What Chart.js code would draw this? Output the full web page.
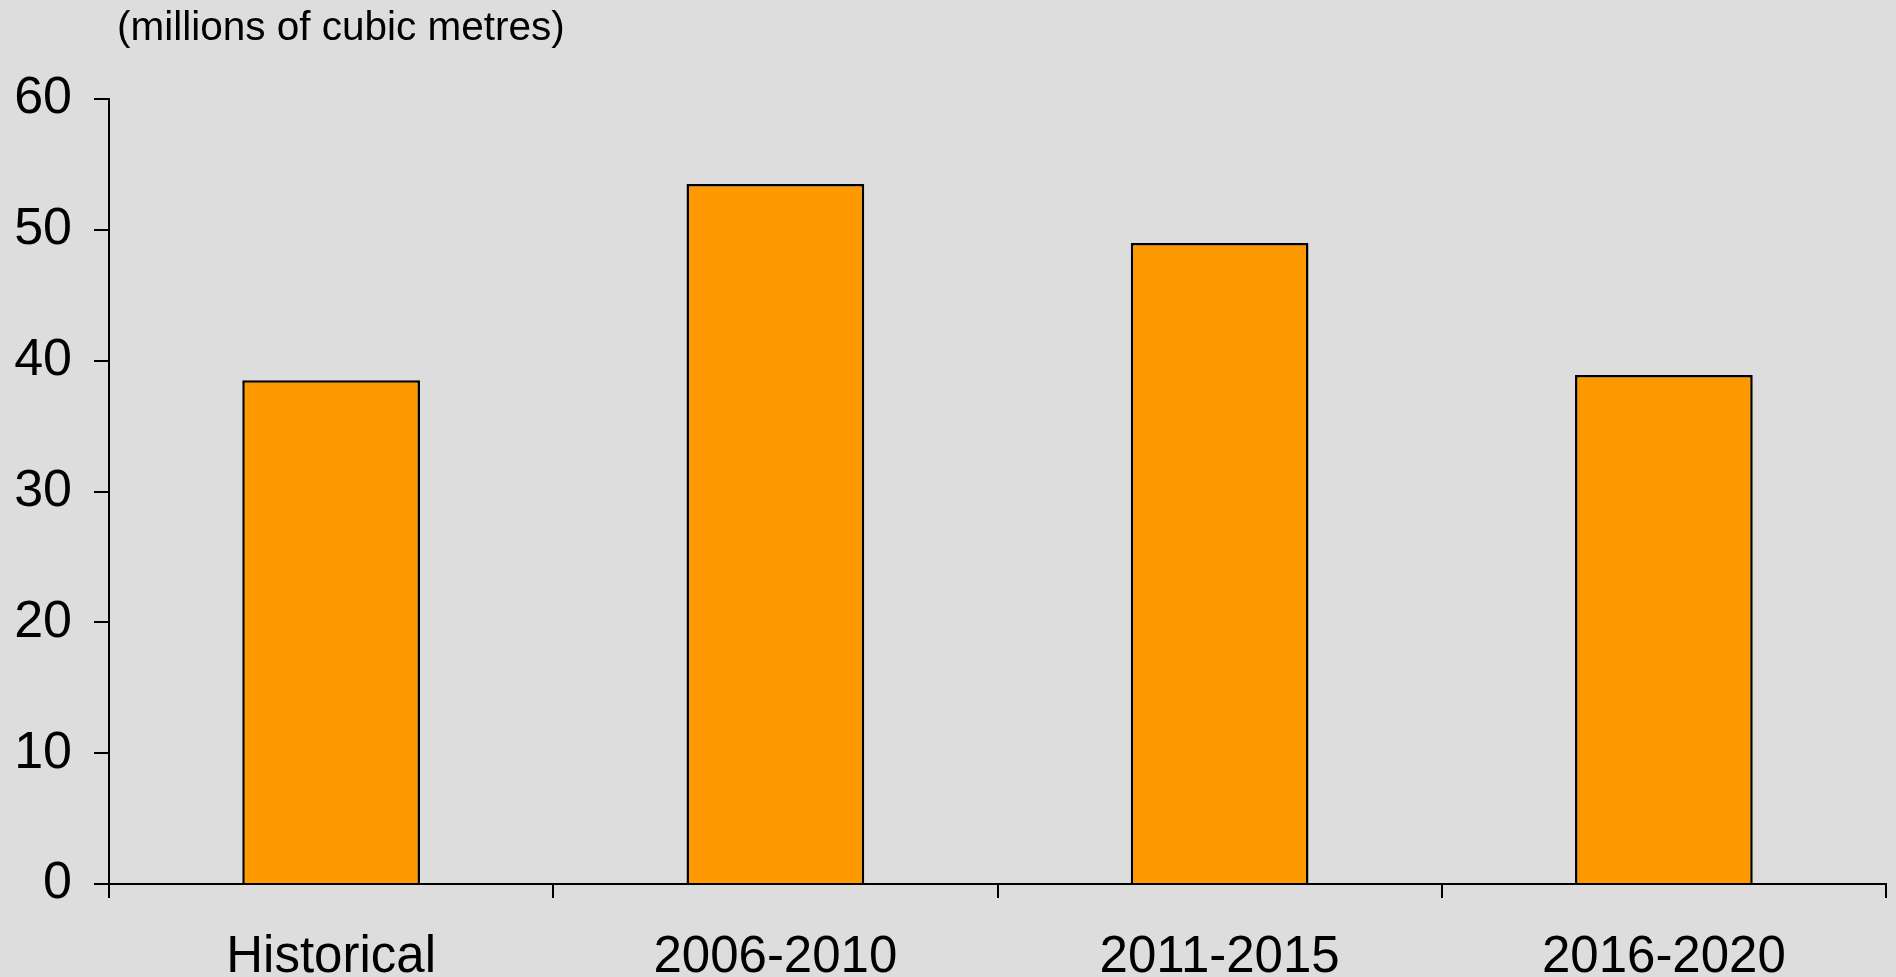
<!DOCTYPE html>
<html>
<head>
<meta charset="utf-8">
<title>Volume</title>
<script src="https://cdn.jsdelivr.net/npm/chart.js@4.4.1/dist/chart.umd.min.js"></script>
<style>
  html, body { margin: 0; padding: 0; background: #dddddd; overflow: hidden; }
  canvas { display: block; }
</style>
</head>
<body>
<canvas id="myChart" width="1896" height="977"></canvas>
<script>
const periods = ["Historical", "2006-2010", "2011-2015", "2016-2020"];
const volumes = [38.5, 53.5, 49.0, 38.9];
const unitLabel = "(millions of cubic metres)";

const FONT = "'Liberation Sans', Arial, sans-serif";

// unit caption drawn above the plot, left-aligned near the y axis
const unitCaption = {
  id: "unitCaption",
  afterDraw(chart) {
    const ctx = chart.ctx;
    ctx.save();
    ctx.font = "40.5px " + FONT;
    ctx.fillStyle = "#000";
    ctx.textBaseline = "middle";
    ctx.textAlign = "left";
    ctx.fillText(unitLabel, chart.chartArea.left + 8, 29);
    ctx.restore();
  },
};

new Chart("myChart", {
  type: "bar",
  data: {
    labels: periods,
    datasets: [
      {
        data: volumes,
        backgroundColor: "#ff9900",
        borderColor: "#000000",
        borderWidth: 2.5,
        barPercentage: 0.4,
        categoryPercentage: 1.0,
      },
    ],
  },
  plugins: [unitCaption],
  options: {
    responsive: false,
    animation: false,
    layout: {
      padding: { top: 99, right: 10, bottom: 0, left: 0 },
    },
    plugins: {
      legend: { display: false },
      tooltip: { enabled: false },
    },
    scales: {
      x: {
        grid: {
          drawOnChartArea: false,
          color: "#000",
          lineWidth: 2,
          tickLength: 14,
          offset: true,
        },
        border: { color: "#000", width: 2 },
        ticks: {
          color: "#000",
          padding: 29,
          maxRotation: 0,
          font: { family: FONT, size: 51 },
        },
        afterFit(scale) {
          scale.height = 93;
        },
      },
      y: {
        min: 0,
        max: 60,
        grid: {
          drawOnChartArea: false,
          color: "#000",
          lineWidth: 2,
          tickLength: 15,
        },
        border: { color: "#000", width: 2 },
        ticks: {
          stepSize: 10,
          color: "#000",
          padding: 22,
          font: { family: FONT, size: 52 },
        },
        afterFit(scale) {
          scale.width = 109;
        },
      },
    },
  },
});
</script>
</body>
</html>
